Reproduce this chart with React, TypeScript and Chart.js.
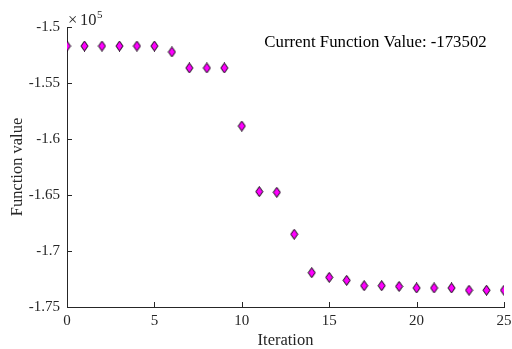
import React, { useEffect, useRef } from "react";
import { Chart, registerables } from "chart.js";

Chart.register(...registerables);

const iterations = [0, 1, 2, 3, 4, 5, 6, 7, 8, 9, 10, 11, 12, 13, 14, 15, 16, 17, 18, 19, 20, 21, 22, 23, 24, 25];
const functionValues = [
  -151700, -151700, -151700, -151700, -151700, -151700, -152230, -153660, -153660, -153660,
  -158840, -164700, -164760, -168500, -171940, -172350, -172620, -173100, -173100, -173160,
  -173300, -173300, -173300, -173502, -173502, -173502,
];
const xTicks = [0, 5, 10, 15, 20, 25];
const yTicks = [-175000, -170000, -165000, -160000, -155000, -150000];
const annotationText = "Current Function Value: -173502";
const xTitle = "Iteration";
const yTitle = "Function value";

const FONT = "'Liberation Serif', 'Times New Roman', serif";
const AXIS = "#262626";

function makeDiamond(): HTMLCanvasElement {
  const c = document.createElement("canvas");
  c.width = 9;
  c.height = 11;
  const g = c.getContext("2d")!;
  g.beginPath();
  g.moveTo(4.5, 0.5);
  g.lineTo(8, 5.5);
  g.lineTo(4.5, 10.5);
  g.lineTo(1, 5.5);
  g.closePath();
  g.fillStyle = "#ff00ff";
  g.fill();
  g.strokeStyle = "#000000";
  g.lineWidth = 1;
  g.stroke();
  return c;
}

const overlayPlugin = {
  id: "overlay",
  afterDraw(chart: any) {
    const ctx = chart.ctx;
    const xs = chart.scales.x;
    const ys = chart.scales.y;
    const area = chart.chartArea;
    ctx.save();
    ctx.strokeStyle = AXIS;
    ctx.lineWidth = 1;
    const tl = 5;
    ctx.beginPath();
    for (const v of xTicks) {
      const px = Math.round(xs.getPixelForValue(v)) + 0.5;
      ctx.moveTo(px, area.bottom);
      ctx.lineTo(px, area.bottom - tl);
    }
    for (const v of yTicks) {
      const py = Math.round(ys.getPixelForValue(v)) + 0.5;
      ctx.moveTo(area.left, py);
      ctx.lineTo(area.left + tl, py);
    }
    ctx.stroke();

    // exponent label
    ctx.fillStyle = AXIS;
    ctx.textBaseline = "alphabetic";
    ctx.textAlign = "left";
    ctx.font = `16.5px ${FONT}`;
    ctx.fillText("\u00d7", area.left + 1, area.top - 2);
    ctx.fillText("10", area.left + 13, area.top - 2);
    const w = ctx.measureText("10").width;
    ctx.font = `11px ${FONT}`;
    ctx.fillText("5", area.left + 13 + w + 0.5, area.top - 9);

    // annotation text
    ctx.fillStyle = "#000000";
    ctx.font = `16.8px ${FONT}`;
    ctx.textAlign = "center";
    ctx.fillText(annotationText, xs.getPixelForValue(17.65), ys.getPixelForValue(-150000) + 20);
    ctx.restore();
  },
};

export default function App() {
  const ref = useRef<HTMLCanvasElement | null>(null);
  useEffect(() => {
    if (!ref.current) return;
    const diamond = makeDiamond();
    const chart = new Chart(ref.current, {
      type: "scatter",
      data: {
        datasets: [
          {
            data: iterations.map((x, i) => ({ x, y: functionValues[i] })),
            pointStyle: diamond as any,
            pointRadius: 5,
            showLine: false,
          },
        ],
      },
      options: {
        animation: false,
        responsive: false,
        layout: { padding: { top: 27, right: 8, bottom: 0, left: 0 } },
        plugins: { legend: { display: false }, tooltip: { enabled: false }, title: { display: false } },
        scales: {
          x: {
            type: "linear",
            min: 0,
            max: 25,
            afterFit: (s: any) => {
              s.height = 42;
              s.paddingLeft = 0;
              s.paddingRight = 0;
            },
            afterBuildTicks: (s: any) => {
              s.ticks = xTicks.map((v) => ({ value: v }));
            },
            grid: { display: false, drawTicks: false },
            border: { display: true, color: AXIS, width: 1 },
            ticks: { color: AXIS, font: { family: FONT, size: 15 }, padding: 5, maxRotation: 0 },
            title: { display: true, text: xTitle, color: AXIS, font: { family: FONT, size: 16.5 }, padding: { top: 0, bottom: -2 } },
          },
          y: {
            type: "linear",
            min: -175000,
            max: -150000,
            afterFit: (s: any) => {
              s.width = 67;
              s.paddingTop = 0;
              s.paddingBottom = 0;
            },
            afterBuildTicks: (s: any) => {
              s.ticks = yTicks.map((v) => ({ value: v }));
            },
            grid: { display: false, drawTicks: false },
            border: { display: true, color: AXIS, width: 1 },
            ticks: {
              color: AXIS,
              font: { family: FONT, size: 15 },
              padding: 7,
              callback: (v: any) => String(Number((Number(v) / 100000).toFixed(2))),
            },
            title: { display: true, text: yTitle, color: AXIS, font: { family: FONT, size: 16.5 }, padding: { top: 8, bottom: 0 } },
          },
        },
      },
      plugins: [overlayPlugin],
    });
    return () => chart.destroy();
  }, []);
  return (
    <div style={{ position: "absolute", left: 0, top: 0, width: 512, height: 349, background: "#fff" }}>
      <canvas ref={ref} width={512} height={349} style={{ width: 512, height: 349, display: "block" }} />
    </div>
  );
}
